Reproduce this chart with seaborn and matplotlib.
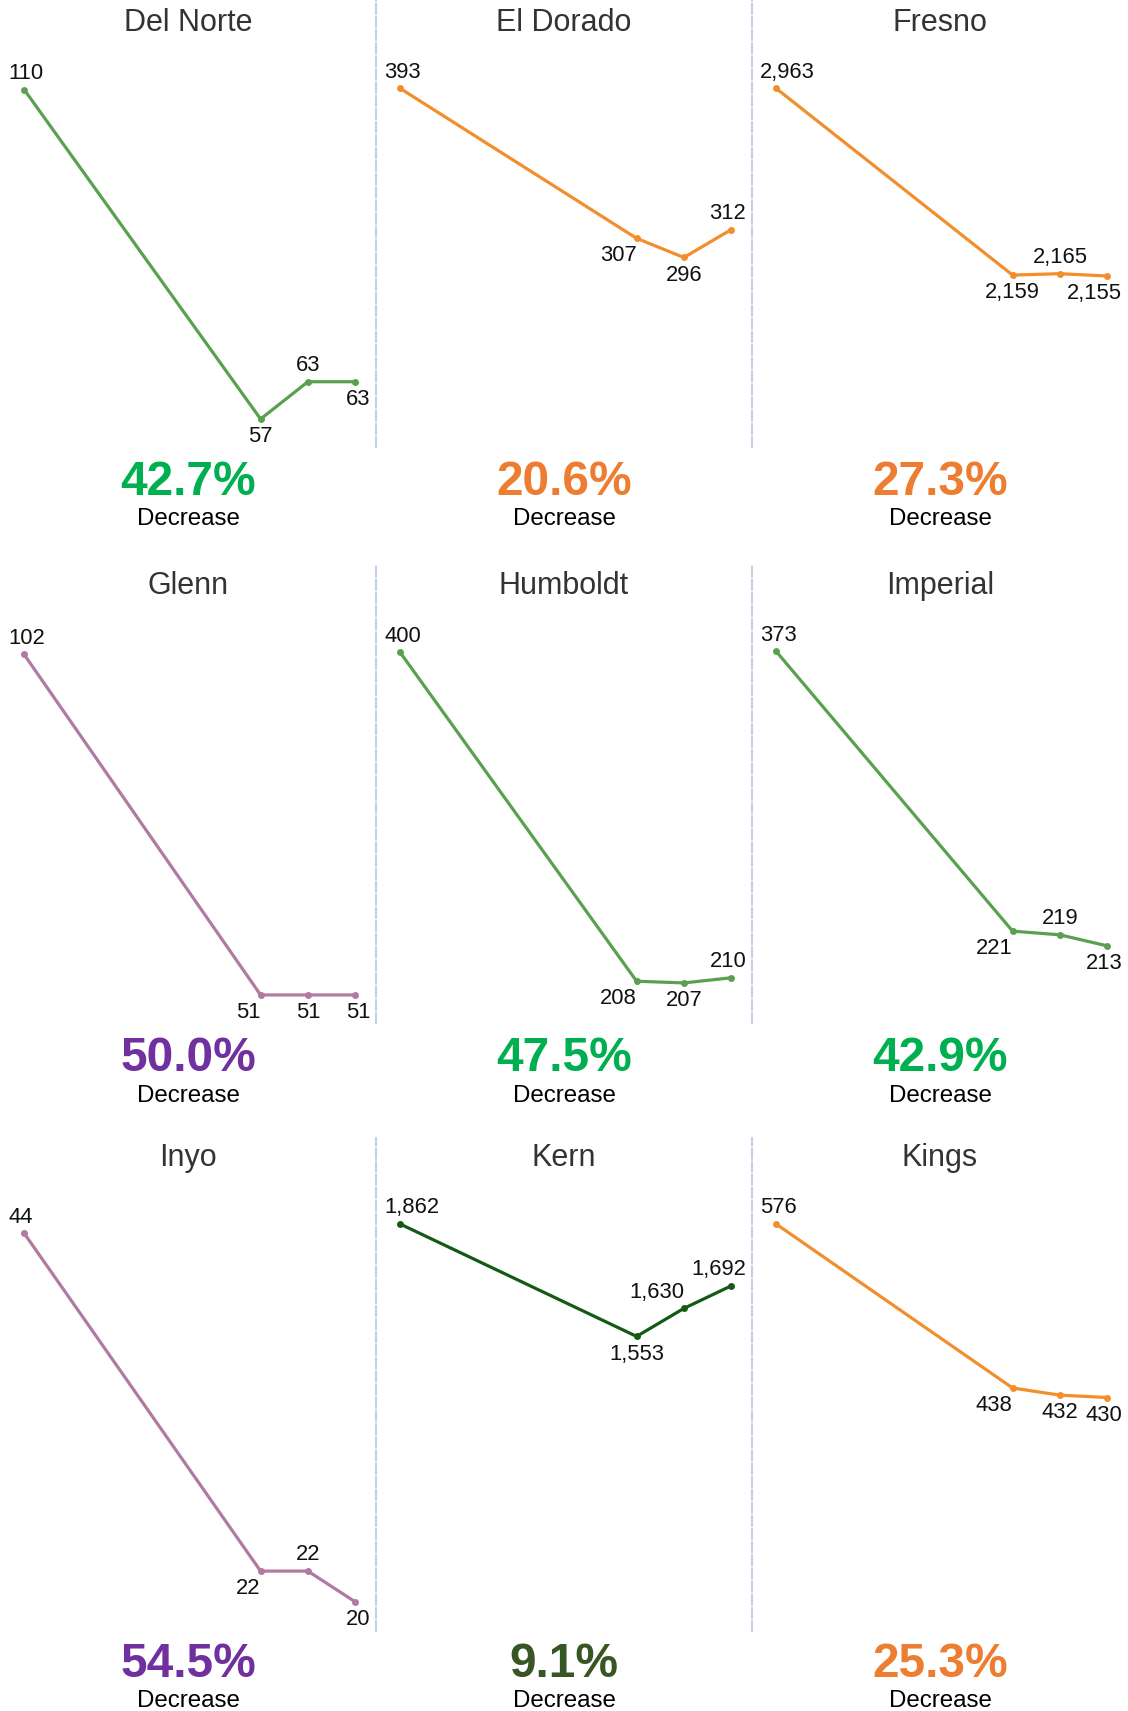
import matplotlib.pyplot as plt
import seaborn as sns
import pandas as pd

# county small multiples: four readings each, left to right
counties = ['Del Norte', 'El Dorado', 'Fresno', 'Glenn', 'Humboldt',
            'Imperial', 'Inyo', 'Kern', 'Kings']
years = [2015, 2020, 2021, 2022]

del_norte = [110, 57, 63, 63]
el_dorado = [393, 307, 296, 312]
fresno = [2963, 2159, 2165, 2155]
glenn = [102, 51, 51, 51]
humboldt = [400, 208, 207, 210]
imperial = [373, 221, 219, 213]
inyo = [44, 22, 22, 20]
kern = [1862, 1553, 1630, 1692]
kings = [576, 438, 432, 430]

series = [del_norte, el_dorado, fresno, glenn, humboldt,
          imperial, inyo, kern, kings]

# per-panel independent y ranges
y_limits = [(52.5, 124.4), (187.3, 443.7), (1418.6, 3343.7),
            (46.8, 115.4), (183.6, 451.0), (171.1, 419.9),
            (18.1, 50.2), (743, 2098.5), (233.5, 648.4)]

# where each value label sits relative to its point
label_spots = [
    ['first', 'b', 'a', 'last_b'],
    ['first', 'bl', 'b', 'last_a'],
    ['first', 'b', 'a', 'last_b'],
    ['first', 'bl', 'b', 'last_b'],
    ['first', 'bl', 'b', 'last_a'],
    ['first', 'bl', 'a', 'last_b'],
    ['first', 'bl', 'a', 'last_b'],
    ['first', 'b', 'al', 'last_a'],
    ['first', 'bl', 'b', 'last_b'],
]

GREEN, ORANGE, PURPLE, DKGREEN = '#59A14F', '#F28E2B', '#B07AA1', '#145A14'
line_colors = [GREEN, ORANGE, ORANGE, PURPLE, GREEN, GREEN, PURPLE, DKGREEN, ORANGE]


def pct_color(p):
    if p >= 50:
        return '#7030A0'
    if p >= 40:
        return '#00B050'
    if p >= 20:
        return '#ED7D31'
    return '#375623'


df = pd.concat([pd.DataFrame({'county': name, 'year': years, 'value': vals})
                for name, vals in zip(counties, series)], ignore_index=True)

sns.set_theme(style='white')
plt.rcParams['font.family'] = ['Liberation Sans', 'DejaVu Sans']

W, H = 1128, 1711
fig = plt.figure(figsize=(W / 100, H / 100), dpi=100)
fig.patch.set_facecolor('white')

col_w = 376
rows_px = [(0, 447), (565, 1023), (1138, 1631)]
title_base = [31, 594, 1166]
pct_base = [495, 1071, 1677]
dec_base = [525, 1102, 1707]

PX = 0.72  # points per pixel at 100 dpi
for i, name in enumerate(counties):
    r, c = divmod(i, 3)
    top, bot = rows_px[r]
    ax = fig.add_axes([c * col_w / W, 1 - bot / H, col_w / W, (bot - top) / H])
    sub = df[df['county'] == name]
    sns.lineplot(data=sub, x='year', y='value', ax=ax, color=line_colors[i],
                 linewidth=2.3, marker='o', markersize=5, markeredgewidth=0)
    ax.set_xlim(2014.49, 2022.44)
    ax.set_ylim(*y_limits[i])
    ax.set_xticks([])
    ax.set_yticks([])
    ax.set_xlabel('')
    ax.set_ylabel('')
    ax.patch.set_alpha(0)
    for s in ['top', 'right', 'bottom']:
        ax.spines[s].set_visible(False)
    if c > 0:
        ax.spines['left'].set_visible(True)
        ax.spines['left'].set_color('#C0D0E8')
        ax.spines['left'].set_linewidth(1.5)
        ax.spines['left'].set_linestyle((0, (4.8, 1.5)))
    else:
        ax.spines['left'].set_visible(False)

    for x, v, spot in zip(sub['year'], sub['value'], label_spots[i]):
        above = 10.7 * PX
        below = -23.1 * PX
        if spot == 'first':
            dx, dy, ha = -16 * PX, above, 'left'
        elif spot == 'last_a':
            dx, dy, ha = 15 * PX, above, 'right'
        elif spot == 'last_b':
            dx, dy, ha = 15 * PX, below, 'right'
        elif spot == 'a':
            dx, dy, ha = 0, above, 'center'
        elif spot == 'al':
            dx, dy, ha = 0, above, 'right'
        elif spot == 'bl':
            dx, dy, ha = 0, below, 'right'
        else:
            dx, dy, ha = 0, below, 'center'
        ax.annotate(f'{v:,}', (x, v), xytext=(dx, dy), textcoords='offset points',
                    ha=ha, va='baseline', fontsize=15.8, color='#111111')

    cx = (c + 0.5) * col_w / W
    fig.text(cx, 1 - title_base[r] / H, name, ha='center', va='baseline',
             fontsize=22, color='#333333')
    vals = series[i]
    pct = (vals[0] - vals[-1]) / vals[0] * 100
    fig.text(cx, 1 - pct_base[r] / H, f'{pct:.1f}%', ha='center', va='baseline',
             fontsize=34.5, fontweight='bold', color=pct_color(pct))
    fig.text(cx, 1 - dec_base[r] / H, 'Decrease', ha='center', va='baseline',
             fontsize=17.4, color='black')

fig.savefig('out.png', dpi=100, facecolor='white')
